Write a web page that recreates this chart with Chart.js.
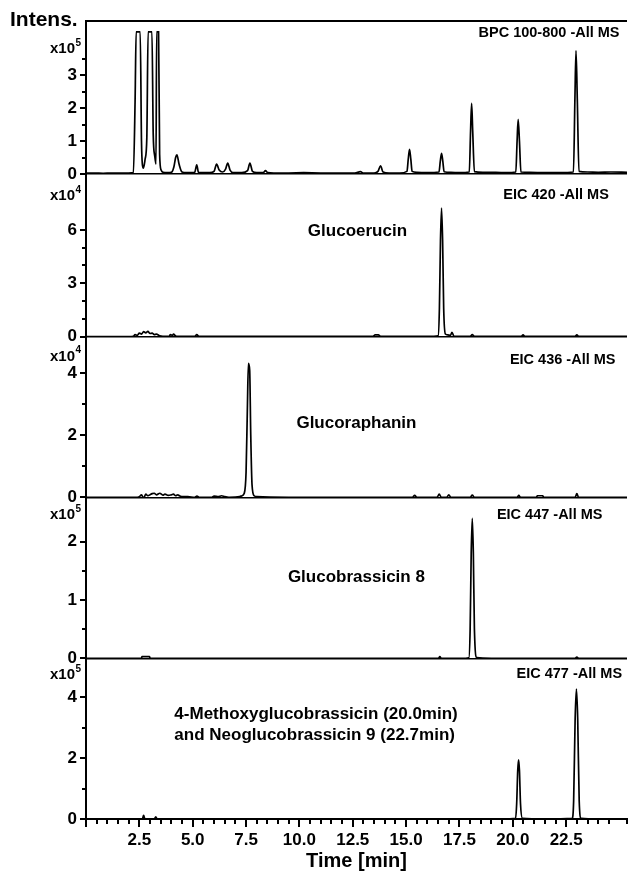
<!DOCTYPE html>
<html>
<head>
<meta charset="utf-8">
<script src="https://cdn.jsdelivr.net/npm/chart.js@4.4.0/dist/chart.umd.min.js"></script>
<style>
  html, body { margin: 0; padding: 0; background: #fff; overflow: hidden; }
  #wrap { position: relative; width: 629px; height: 873px; }
  #chart-ms { display: block; }
</style>
</head>
<body>
<div id="wrap"><canvas id="chart-ms"></canvas></div>
<script>
// x axis labels (min)
var timeLabels = ["2.5", "5.0", "7.5", "10.0", "12.5", "15.0", "17.5", "20.0", "22.5"];

// BPC 100-800 -All MS  (x10^5)
var bpcTime = [0, 0.4, 0.8, 1.2, 1.6, 2.0, 2.22, 2.3, 2.35, 2.54, 2.6, 2.64, 2.69, 2.77, 2.85, 2.91, 3.09, 3.15, 3.22, 3.28, 3.31, 3.4, 3.45, 3.52, 3.62, 3.8, 4.0, 4.12, 4.2, 4.26, 4.36, 4.5, 4.7, 5.0, 5.1, 5.19, 5.27, 5.4, 5.8, 6.0, 6.12, 6.24, 6.4, 6.54, 6.64, 6.75, 6.9, 7.3, 7.57, 7.68, 7.8, 8.0, 8.3, 8.41, 8.52, 8.8, 9.5, 10.2, 11.0, 11.8, 12.6, 12.86, 13.0, 13.5, 13.68, 13.8, 13.92, 14.2, 14.7, 15.04, 15.1, 15.16, 15.22, 15.28, 15.5, 16.0, 16.54, 16.6, 16.66, 16.72, 16.78, 17.1, 17.5, 17.96, 18.02, 18.07, 18.12, 18.2, 18.6, 19.2, 19.7, 20.14, 20.2, 20.25, 20.31, 20.38, 20.8, 21.5, 22.2, 22.84, 22.91, 22.96, 23.02, 23.1, 23.5, 24.0, 24.6, 25.35];
var bpcInt  = [0.03, 0.03, 0.02, 0.03, 0.03, 0.03, 0.04, 2.2, 4.31, 4.31, 1.0, 0.3, 0.18, 0.45, 1.1, 4.31, 4.31, 1.2, 0.55, 0.3, 4.31, 4.31, 0.6, 0.12, 0.05, 0.04, 0.05, 0.22, 0.5, 0.58, 0.3, 0.06, 0.04, 0.04, 0.06, 0.28, 0.05, 0.04, 0.04, 0.08, 0.3, 0.12, 0.06, 0.15, 0.33, 0.12, 0.04, 0.04, 0.1, 0.33, 0.08, 0.04, 0.04, 0.1, 0.04, 0.03, 0.03, 0.04, 0.03, 0.03, 0.03, 0.07, 0.03, 0.03, 0.08, 0.25, 0.06, 0.03, 0.03, 0.08, 0.45, 0.75, 0.45, 0.08, 0.05, 0.04, 0.06, 0.38, 0.63, 0.38, 0.07, 0.05, 0.04, 0.06, 1.3, 2.14, 1.3, 0.07, 0.05, 0.05, 0.04, 0.06, 1.0, 1.66, 1.0, 0.06, 0.05, 0.04, 0.04, 0.06, 2.3, 3.74, 2.3, 0.08, 0.06, 0.05, 0.06, 0.05];

// EIC 420 -All MS  (x10^4)
var eic420Time = [0, 0.5, 1.0, 1.5, 2.0, 2.22, 2.3, 2.4, 2.5, 2.6, 2.7, 2.8, 2.9, 3.0, 3.1, 3.2, 3.3, 3.45, 3.6, 3.9, 3.95, 4.05, 4.1, 4.2, 4.3, 5.1, 5.19, 5.3, 6.5, 8.0, 10.0, 12.0, 13.45, 13.55, 13.7, 13.8, 15.0, 16.3, 16.5, 16.56, 16.61, 16.66, 16.71, 16.76, 16.84, 16.95, 17.08, 17.15, 17.24, 18.0, 18.1, 18.2, 19.5, 20.4, 20.48, 20.56, 21.5, 22.92, 23.0, 23.08, 24.2, 25.35];
var eic420Int  = [0.0, 0.0, 0.0, 0.0, 0.0, 0.02, 0.12, 0.08, 0.2, 0.15, 0.28, 0.22, 0.3, 0.18, 0.2, 0.12, 0.14, 0.05, 0.02, 0.02, 0.12, 0.08, 0.14, 0.04, 0.02, 0.02, 0.12, 0.02, 0.02, 0.02, 0.02, 0.02, 0.02, 0.1, 0.1, 0.02, 0.02, 0.02, 0.05, 1.6, 5.4, 7.23, 5.4, 1.6, 0.15, 0.1, 0.08, 0.25, 0.03, 0.02, 0.12, 0.02, 0.02, 0.02, 0.1, 0.02, 0.02, 0.02, 0.1, 0.02, 0.02, 0.02];

// EIC 436 -All MS  (x10^4)
var eic436Time = [0, 0.5, 1.0, 1.5, 2.0, 2.3, 2.5, 2.6, 2.7, 2.8, 2.9, 3.0, 3.1, 3.2, 3.3, 3.46, 3.6, 3.7, 3.85, 4.0, 4.1, 4.2, 4.3, 4.4, 4.55, 4.77, 5.1, 5.2, 5.3, 5.9, 6.0, 6.2, 6.35, 6.5, 6.7, 7.2, 7.31, 7.41, 7.5, 7.56, 7.61, 7.67, 7.72, 7.78, 7.88, 8.0, 9.5, 11.0, 13.0, 15.3, 15.4, 15.5, 16.45, 16.55, 16.65, 16.9, 17.0, 17.1, 18.0, 18.1, 18.2, 19.5, 20.2, 20.28, 20.36, 21.1, 21.15, 21.4, 21.45, 22.5, 22.92, 23.0, 23.08, 24.0, 25.35];
var eic436Int  = [0.0, 0.0, 0.0, 0.0, 0.0, 0.0, 0.02, 0.08, -0.03, 0.1, 0.05, 0.08, 0.12, 0.13, 0.08, 0.13, 0.07, 0.1, 0.06, 0.08, 0.1, 0.05, 0.08, 0.04, 0.02, 0.02, 0.0, 0.04, 0.0, 0.0, 0.04, 0.02, 0.05, 0.02, 0.0, 0.02, 0.05, 0.12, 0.8, 2.8, 4.32, 4.1, 2.0, 0.4, 0.05, 0.02, 0.0, 0.0, 0.0, 0.0, 0.06, 0.0, 0.0, 0.1, 0.0, 0.0, 0.08, 0.0, 0.0, 0.07, 0.0, 0.0, 0.0, 0.06, 0.0, 0.0, 0.05, 0.05, 0.0, 0.0, 0.0, 0.12, 0.0, 0.0, 0.0];

// EIC 447 -All MS  (x10^5)
var eic447Time = [0, 2.0, 2.6, 2.62, 2.98, 3.0, 5.0, 10.0, 16.0, 16.52, 16.58, 16.64, 17.6, 17.94, 18.0, 18.05, 18.1, 18.15, 18.2, 18.31, 19.0, 22.92, 23.0, 23.08, 25.35];
var eic447Int  = [0.0, 0.0, 0.0, 0.03, 0.03, 0.0, 0.0, 0.0, 0.0, 0.0, 0.03, 0.0, 0.0, 0.01, 0.5, 1.8, 2.40, 1.8, 0.5, 0.01, 0.0, 0.0, 0.02, 0.0, 0.0];

// EIC 477 -All MS  (x10^5)
var eic477Time = [0, 2.0, 2.64, 2.7, 2.76, 3.2, 3.27, 3.33, 5.0, 10.0, 15.0, 19.5, 20.13, 20.18, 20.23, 20.27, 20.31, 20.36, 20.45, 21.5, 22.78, 22.85, 22.92, 22.98, 23.04, 23.11, 23.2, 24.0, 25.35];
var eic477Int  = [0.0, 0.0, 0.0, 0.12, 0.0, 0.0, 0.07, 0.0, 0.0, 0.0, 0.0, 0.0, 0.02, 0.5, 1.6, 1.95, 1.6, 0.5, 0.02, 0.0, 0.02, 0.6, 3.3, 4.28, 3.3, 0.6, 0.02, 0.0, 0.0];

var FONT = "'Liberation Sans', Arial, Helvetica, sans-serif";

function pts(xs, ys) {
  return xs.map(function (x, i) { return { x: x, y: ys[i] }; });
}

function trace(xs, ys, axis) {
  return {
    data: pts(xs, ys),
    yAxisID: axis,
    borderColor: "#000",
    borderWidth: 1.7,
    pointRadius: 0,
    cubicInterpolationMode: "monotone",
    fill: false
  };
}

// one panel of the stack
function panelAxis(max, step, major, cap, weight) {
  return {
    type: "linear",
    position: "left",
    stack: "ms",
    stackWeight: weight,
    min: 0,
    max: max,
    afterBuildTicks: function (s) {
      s.ticks = s.ticks.filter(function (t) { return t.value <= cap + 1e-6; });
    },
    afterFit: function (s) { s.width = 86; },
    grid: {
      drawTicks: false,
      lineWidth: 1.5,
      color: function (c) {
        return c.tick && c.tick.value === 0 ? "#000" : "rgba(0,0,0,0)";
      }
    },
    border: { display: true, color: "#000", width: 2 },
    ticks: {
      stepSize: step,
      includeBounds: false,
      autoSkip: false,
      padding: 9,
      color: "#000",
      font: { family: FONT, size: 17, weight: "bold" },
      callback: function (v) {
        var r = v / major;
        return Math.abs(r - Math.round(r)) < 1e-6 ? String(Math.round(v)) : "";
      }
    }
  };
}

var panels = ["p1", "p2", "p3", "p4", "p5"];
var exps = { p1: 5, p2: 4, p3: 4, p4: 5, p5: 5 };
var expOffset = { p1: 28, p2: 22, p3: 20, p4: 18, p5: 17 };

var notes = [
  { axis: "p1", t: 25.0,  v: 4.27, text: "BPC 100-800 -All MS", align: "right", size: 14.5 },
  { axis: "p2", t: 24.5,  v: 7.96, text: "EIC 420 -All MS", align: "right", size: 14.5 },
  { axis: "p3", t: 24.81, v: 4.43, text: "EIC 436 -All MS", align: "right", size: 14.5 },
  { axis: "p4", t: 24.2,  v: 2.46, text: "EIC 447 -All MS", align: "right", size: 14.5 },
  { axis: "p5", t: 25.12, v: 4.78, text: "EIC 477 -All MS", align: "right", size: 14.5 },
  { axis: "p2", t: 12.72, v: 5.9,  text: "Glucoerucin", align: "center", size: 17 },
  { axis: "p3", t: 12.67, v: 2.4,  text: "Glucoraphanin", align: "center", size: 17 },
  { axis: "p4", t: 12.67, v: 1.39, text: "Glucobrassicin 8", align: "center", size: 17 },
  { axis: "p5", t: 4.14,  v: 3.43, text: "4-Methoxyglucobrassicin (20.0min)", align: "left", size: 17 },
  { axis: "p5", t: 4.14,  v: 2.74, text: "and Neoglucobrassicin 9 (22.7min)", align: "left", size: 17 }
];

var inkPlugin = {
  id: "ink",
  afterDraw: function (chart) {
    var c = chart.ctx, a = chart.chartArea;
    c.save();
    c.strokeStyle = "#000";
    c.fillStyle = "#000";
    c.lineWidth = 2;
    c.beginPath();
    c.moveTo(a.left - 1, a.top);
    c.lineTo(a.right, a.top);
    c.stroke();

    // y tick marks
    panels.forEach(function (id) {
      var s = chart.scales[id];
      s.ticks.forEach(function (t) {
        var y = Math.round(s.getPixelForValue(t.value));
        var len = t.label ? 6 : 4;
        c.beginPath();
        c.moveTo(s.right - len, y);
        c.lineTo(s.right, y);
        c.stroke();
      });
    });

    // x tick marks
    var xs = chart.scales.x;
    xs.ticks.forEach(function (t) {
      var x = Math.round(xs.getPixelForValue(t.value));
      var r = t.value / 2.5;
      var len = Math.abs(r - Math.round(r)) < 1e-6 ? 8 : 5;
      c.beginPath();
      c.moveTo(x, a.bottom);
      c.lineTo(x, a.bottom + len);
      c.stroke();
    });

    // Intens.
    c.textBaseline = "middle";
    c.textAlign = "left";
    c.font = "bold 21px " + FONT;
    c.fillText("Intens.", 10, a.top - 1);

    // x10^n
    panels.forEach(function (id) {
      var s = chart.scales[id];
      var y = s.top + expOffset[id];
      c.textAlign = "right";
      c.font = "bold 10px " + FONT;
      c.fillText(String(exps[id]), 81, y - 6);
      c.font = "bold 15px " + FONT;
      c.fillText("x10", 75, y);
    });

    // panel titles and compound names
    notes.forEach(function (n) {
      var px = xs.getPixelForValue(n.t);
      var py = chart.scales[n.axis].getPixelForValue(n.v);
      c.font = "bold " + n.size + "px " + FONT;
      c.textAlign = n.align;
      c.fillText(n.text, px, py);
    });
    c.restore();
  }
};

var scales = {
  // stacked panels, bottom first
  p5: panelAxis(5.29, 1, 2, 4, 160.7),
  p4: panelAxis(2.76, 0.5, 1, 2, 161),
  p3: panelAxis(5.18, 1, 2, 4, 160.6),
  p2: panelAxis(9.14, 1, 3, 6, 162.7),
  p1: panelAxis(4.64, 0.5, 1, 3.5, 153),
  x: {
    type: "linear",
    position: "bottom",
    min: 0,
    max: 25.35,
    afterFit: function (s) {
      s.height = 54;
      s.paddingLeft = 0;
      s.paddingRight = 0;
    },
    grid: { display: false, drawTicks: false },
    border: { display: true, color: "#000", width: 2 },
    ticks: {
      stepSize: 0.5,
      autoSkip: false,
      maxRotation: 0,
      padding: 11,
      color: "#000",
      font: { family: FONT, size: 17, weight: "bold" },
      callback: function (v) {
        var s = v.toFixed(1);
        return timeLabels.indexOf(s) >= 0 ? s : "";
      }
    },
    title: {
      display: true,
      text: "Time [min]",
      color: "#000",
      padding: { top: 0, bottom: 0 },
      font: { family: FONT, size: 20, weight: "bold" }
    }
  }
};

new Chart(document.getElementById("chart-ms").getContext("2d"), {
  type: "line",
  data: {
    datasets: [
      trace(bpcTime, bpcInt, "p1"),
      trace(eic420Time, eic420Int, "p2"),
      trace(eic436Time, eic436Int, "p3"),
      trace(eic447Time, eic447Int, "p4"),
      trace(eic477Time, eic477Int, "p5")
    ]
  },
  options: {
    responsive: true,
    maintainAspectRatio: false,
    animation: false,
    layout: { padding: { top: 21, right: 2, left: 0, bottom: 0 } },
    plugins: {
      legend: { display: false },
      tooltip: { enabled: false }
    },
    scales: scales
  },
  plugins: [inkPlugin]
});
</script>
</body>
</html>
